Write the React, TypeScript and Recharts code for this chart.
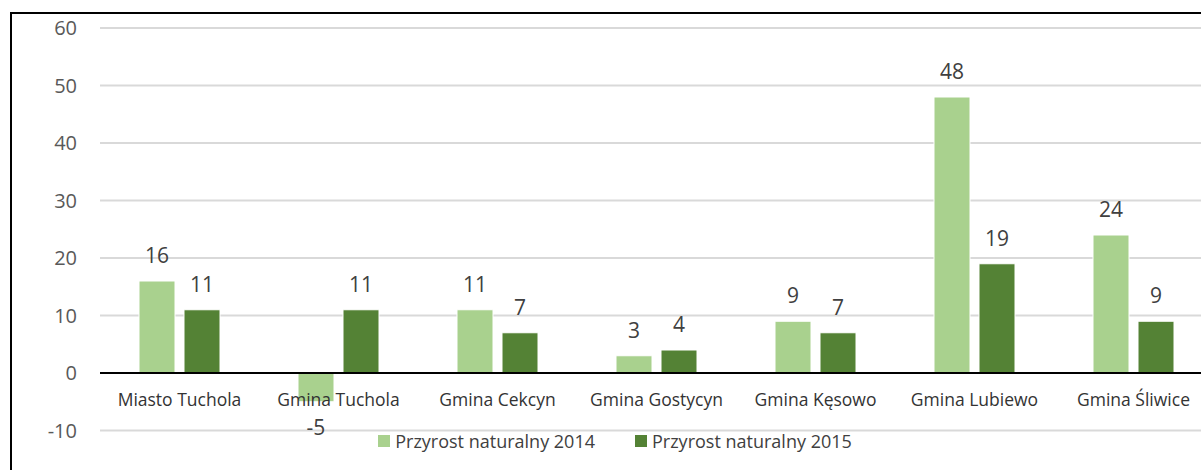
import { BarChart, Bar, XAxis, YAxis, CartesianGrid, ReferenceLine, Legend, LabelList } from "recharts";

const gminy = [
  "Miasto Tuchola",
  "Gmina Tuchola",
  "Gmina Cekcyn",
  "Gmina Gostycyn",
  "Gmina Kęsowo",
  "Gmina Lubiewo",
  "Gmina Śliwice",
];
const przyrost2014 = [16, -5, 11, 3, 9, 48, 24];
const przyrost2015 = [11, 11, 7, 4, 7, 19, 9];
const yTicks = [-10, 0, 10, 20, 30, 40, 50, 60];

const data = gminy.map((name, i) => ({
  name,
  p2014: przyrost2014[i],
  p2015: przyrost2015[i],
}));

const font = "'Open Sans', 'Noto Sans', sans-serif";

function CategoryTick(props: any) {
  const { x, y, payload } = props;
  // labels sit just under the zero line, not at the bottom of the plot
  return (
    <text x={x} y={y - 25} textAnchor="middle" fontSize={17.5} fill="#333" fontFamily={font}>
      {payload.value}
    </text>
  );
}

function LegendBox(props: any) {
  const { payload } = props;
  return (
    <div style={{ display: "flex", justifyContent: "center", alignItems: "center", gap: 40, fontFamily: font, fontSize: 18, color: "#404040", lineHeight: "20px" }}>
      {payload.map((p: any) => (
        <div key={p.value} style={{ display: "flex", alignItems: "center" }}>
          <span style={{ display: "inline-block", width: 12, height: 12, background: p.color, marginRight: 5 }} />
          <span>{p.value}</span>
        </div>
      ))}
    </div>
  );
}

export default function App() {
  return (
    <div style={{ position: "absolute", left: 0, top: 0, width: 1201, height: 470, overflow: "hidden", background: "#fff" }}>
      <div style={{ position: "absolute", left: 10, top: 12, width: 1215, height: 480, border: "2px solid #000", boxSizing: "border-box" }} />
      <div style={{ position: "absolute", left: 0, top: 0 }}>
        <BarChart width={1230} height={470} data={data} margin={{ top: 28, right: 17, bottom: 0, left: 10 }} barSize={36} barGap={9}>
          <CartesianGrid vertical={false} stroke="#d9d9d9" strokeWidth={2} />
          <XAxis dataKey="name" axisLine={false} tickLine={false} tickSize={0} tickMargin={0} height={39.5} tick={<CategoryTick />} interval={0} />
          <YAxis
            domain={[-10, 60]}
            ticks={yTicks}
            width={90}
            axisLine={false}
            tickLine={false}
            tickSize={0}
            tickMargin={23}
            tick={{ fontSize: 20, fill: "#595959", fontFamily: font }}
          />
          <ReferenceLine y={0} stroke="#000" strokeWidth={2} />
          <Legend layout="horizontal" verticalAlign="middle" align="center" wrapperStyle={{ left: 0, top: 431, width: 1230 }} content={<LegendBox />} />
          <Bar dataKey="p2014" name="Przyrost naturalny 2014" fill="#a9d18e" stroke="#fff" strokeWidth={1} isAnimationActive={false}>
            <LabelList dataKey="p2014" position="top" offset={18} fontSize={21} fill="#404040" fontFamily={font} />
          </Bar>
          <Bar dataKey="p2015" name="Przyrost naturalny 2015" fill="#548235" stroke="#fff" strokeWidth={1} isAnimationActive={false}>
            <LabelList dataKey="p2015" position="top" offset={18} fontSize={21} fill="#404040" fontFamily={font} />
          </Bar>
        </BarChart>
      </div>
    </div>
  );
}
